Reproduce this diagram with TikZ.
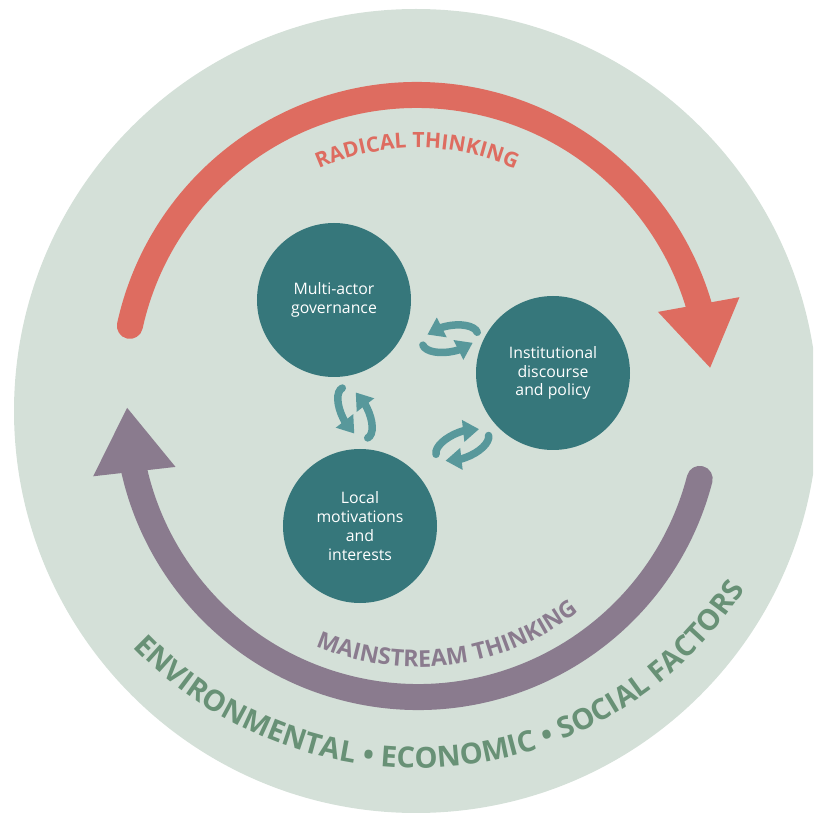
\documentclass[tikz,border=0pt]{standalone}
\usepackage{fontspec}
\setmainfont{Open Sans}
\usetikzlibrary{arrows.meta,bending,calc,decorations.text}

\definecolor{backg}{RGB}{212,224,216}
\definecolor{radical}{RGB}{222,108,96}
\definecolor{mainstream}{RGB}{138,123,142}
\definecolor{hubteal}{RGB}{54,119,123}
\definecolor{iconteal}{RGB}{88,152,155}
\definecolor{factors}{RGB}{104,145,118}

\tikzset{
  hubnode/.style={circle, fill=hubteal, minimum size=30.8mm, inner sep=0pt,
                  align=center, text=white, font=\fontsize{9}{10.7}\selectfont},
  bigarrow/.style={line width=5.2mm, line cap=round,
                   -{Triangle[length=13mm,width=15.6mm,flex]}},
  swaparrow/.style={draw=iconteal, line width=1.5mm, line cap=round,
                    -{Triangle[length=3.2mm,width=4.2mm]}},
}

\begin{document}
\begin{tikzpicture}[x=0.2mm,y=0.2mm]

\pgfmathsetmacro{\ra}{28}
\pgfmathsetmacro{\rb}{13}

\useasboundingbox (0,0) rectangle (813,813);
\clip (0,0) rectangle (813,813);

% BACKGROUND
\fill[backg] (416,402) circle (402);

% OUTER TEXT
\path[decorate, decoration={text along path, text align=center,
      text={|\fontsize{16.5}{18}\selectfont\bfseries\color{factors}|ENVIRONMENTAL • ECONOMIC • SOCIAL FACTORS}}]
      (416,437) ++(185.4:392) arc (185.4:365.4:392);

% RADICAL
\draw[bigarrow, radical] (417,424) ++(167.6:294) arc (167.6:4:294);
\path[decorate, decoration={text along path, text align=center,
      text={|\fontsize{12}{14}\selectfont\bfseries\color{radical}|RADICAL THINKING}}]
      (417,424) ++(150:241) arc (150:30:241);

% MAINSTREAM
\draw[bigarrow, mainstream] (418,407) ++(-14.5:291) arc (-14.5:-179.8:291);
\path[decorate, decoration={text along path, text align=center,
      text={|\fontsize{13.2}{15}\selectfont\bfseries\color{mainstream}|MAINSTREAM THINKING}}]
      (418,407) ++(202.5:261) arc (202.5:352.5:261);

% HUBS
\node[hubnode] (multi) at (334,513) {Multi-actor\\governance};
\node[hubnode] (inst)  at (553,440) {Institutional\\discourse\\and policy};
\node[hubnode] (motiv) at (360,287) {Local\\motivations\\and\\interests};

% SWAP ICONS
%multi - inst
\begin{scope}[shift={($(multi)!0.53!(inst)$)}, rotate=11]
\draw[swaparrow] (5:{\ra} and {\rb}) arc[start angle=5, end angle=140, x radius=\ra, y radius=\rb];
\draw[swaparrow] (185:{\ra} and {\rb}) arc[start angle=185, end angle=320, x radius=\ra, y radius=\rb];
\end{scope}

%multi - motiv
\begin{scope}[shift={($(multi)!0.5!(motiv)+(8,0)$)}, rotate=117]
\draw[swaparrow] (0:{\ra} and {\rb}) arc[start angle=0, end angle=130, x radius=\ra, y radius=\rb];
\draw[swaparrow] (180:{\ra} and {\rb}) arc[start angle=180, end angle=310, x radius=\ra, y radius=\rb];
\end{scope}

%inst - motiv
\begin{scope}[shift={($(inst)!0.47!(motiv)$)}, rotate=22]
\draw[swaparrow] (175:{\ra} and {\rb}) arc[start angle=175, end angle=40, x radius=\ra, y radius=\rb];
\draw[swaparrow] (-5:{\ra} and {\rb}) arc[start angle=-5, end angle=-140, x radius=\ra, y radius=\rb];
\end{scope}

\end{tikzpicture}
\end{document}
